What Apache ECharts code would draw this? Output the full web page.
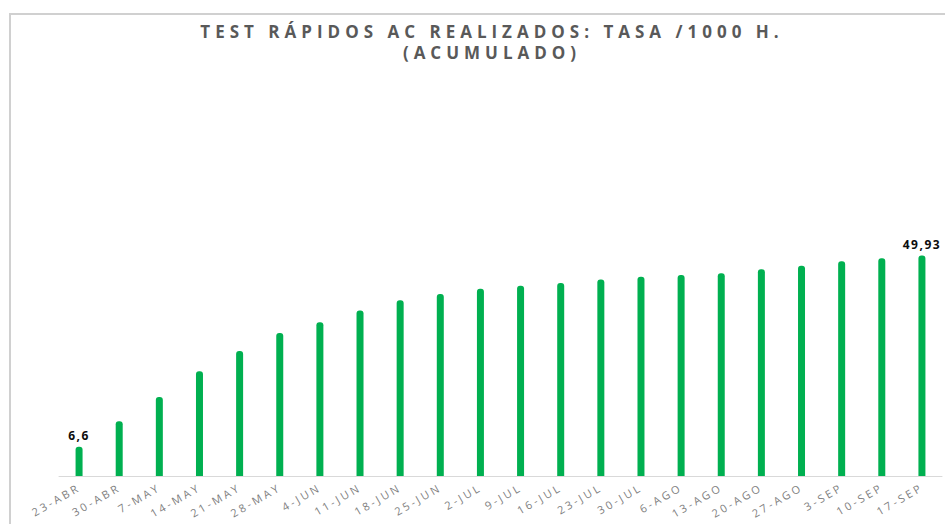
<!DOCTYPE html>
<html>
<head>
<meta charset="utf-8">
<script src="https://cdn.jsdelivr.net/npm/echarts@6/dist/echarts.min.js"></script>
<style>
html,body{margin:0;padding:0;background:#fff;}
#chart{width:945px;height:524px;}
#chart text[fill="#595959"]{letter-spacing:5px;}
#chart text[fill="#7f7f7f"]{letter-spacing:2.8px;}
#chart text[fill="#0d0d0d"]{letter-spacing:1.5px;}
</style>
</head>
<body>
<div id="chart"></div>
<script>
const titleText = 'TEST RÁPIDOS AC REALIZADOS: TASA /1000 H.\n(ACUMULADO)';
const categories = ['23-ABR','30-ABR','7-MAY','14-MAY','21-MAY','28-MAY','4-JUN','11-JUN','18-JUN','25-JUN','2-JUL','9-JUL','16-JUL','23-JUL','30-JUL','6-AGO','13-AGO','20-AGO','27-AGO','3-SEP','10-SEP','17-SEP'];
const values = [6.6,12.4,17.9,23.7,28.3,32.4,34.8,37.5,39.8,41.2,42.4,43.1,43.7,44.5,45.1,45.5,45.9,46.8,47.6,48.6,49.3,49.93];
const labelledIdx = [0, 21];

const chart = echarts.init(document.getElementById('chart'), null, {renderer:'svg'});
const seriesData = values.map((v,i)=>({
  value: v,
  label: {show: labelledIdx.indexOf(i) >= 0}
}));
chart.setOption({
  animation:false,
  backgroundColor:'#ffffff',
  graphic:[
    {type:'rect', shape:{x:10,y:14,width:1000,height:1000}, style:{fill:'none', stroke:'#d0d0d0', lineWidth:2}, silent:true},
    {type:'text', x:492, y:21, style:{text:titleText, fill:'#595959', font:'bold 17px "Open Sans", sans-serif', align:'center', verticalAlign:'top', lineHeight:21}}
  ],
  grid:{left:59, right:3, top:211, bottom:48, containLabel:false},
  xAxis:{
    type:'category', data:categories,
    axisLine:{lineStyle:{color:'#d9d9d9', width:1}},
    axisTick:{show:false},
    axisLabel:{interval:0, rotate:30, color:'#7f7f7f', fontSize:11, fontFamily:'"Open Sans", sans-serif', margin:10}
  },
  yAxis:{type:'value', min:0, max:60, show:false, splitLine:{show:false}},
  series:[{
    type:'bar', data:seriesData, barWidth:7,
    itemStyle:{color:'#00b050', borderRadius:[3,3,0,0]},
    label:{position:'top', distance:5, color:'#0d0d0d', fontWeight:'bold', fontSize:12, fontFamily:'"Open Sans", sans-serif',
      formatter:(p)=>String(p.value).replace('.',',')}
  }]
});
</script>
</body>
</html>
